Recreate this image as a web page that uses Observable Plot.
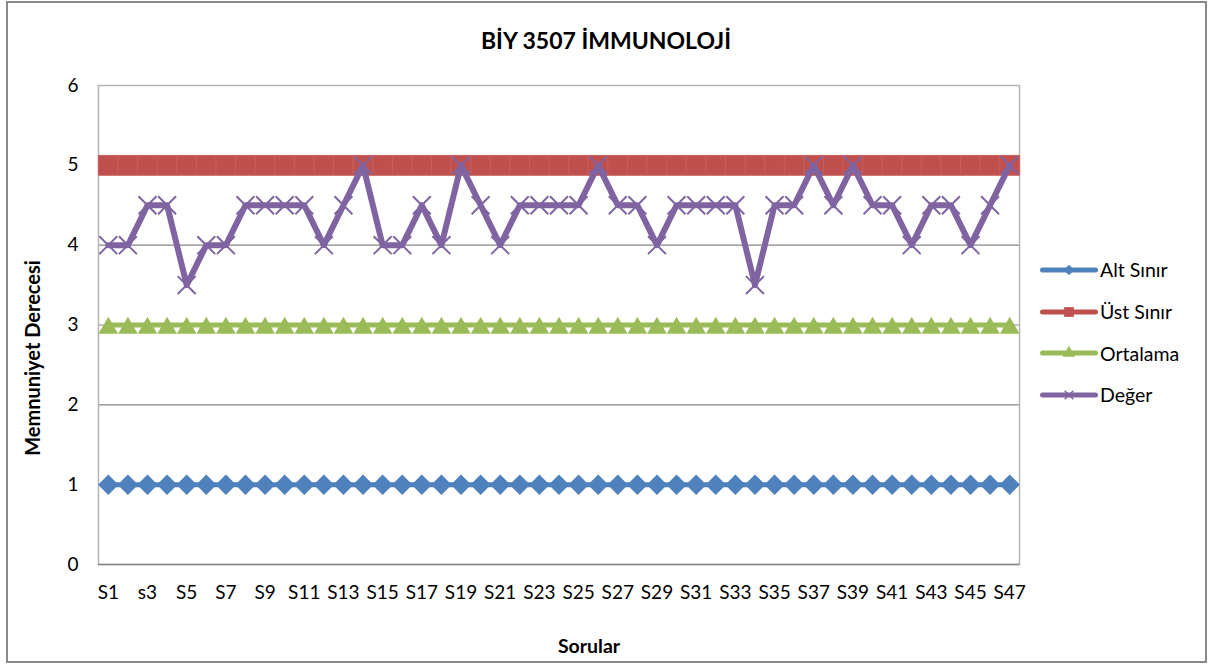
<!DOCTYPE html>
<html>
<head>
<meta charset="utf-8">
<script src="https://cdn.jsdelivr.net/npm/d3@7"></script>
<script src="https://cdn.jsdelivr.net/npm/@observablehq/plot@0.6"></script>
<style>
  html, body { margin: 0; padding: 0; background: #fff; }
  #wrap { position: relative; width: 1208px; height: 664px; overflow: hidden; font-family: Lato, "Open Sans", sans-serif; color: #000; }
  #border { position: absolute; left: 6px; top: 1px; width: 1201px; height: 662px; border: 2px solid #898989; box-sizing: border-box; pointer-events: none; }
  #chart { position: absolute; left: 0; top: 0; }
  .abs { position: absolute; transform: translate(-50%, -50%); white-space: nowrap; }
  #title { left: 606px; top: 40px; font-size: 23px; font-weight: bold; }
  #xlabel { left: 589px; top: 645px; font-size: 19.5px; font-weight: bold; }
  #ylabel { left: 32px; top: 358px; font-size: 20px; font-weight: bold; transform: translate(-50%, -50%) rotate(-90deg); }
  #legend { position: absolute; left: 1040px; top: 249px; }
  .item { display: flex; align-items: center; height: 41.7px; font-size: 19.5px; }
  .item svg { margin-right: 2px; }
</style>
</head>
<body>
<div id="wrap">
  <div id="chart"></div>
  <div id="title" class="abs">BİY 3507 İMMUNOLOJİ</div>
  <div id="ylabel" class="abs">Memnuniyet Derecesi</div>
  <div id="xlabel" class="abs">Sorular</div>
  <div id="legend"></div>
  <div id="border"></div>
</div>
<script>
// ---- data ----
const categories = ["S1","S2","s3","S4","S5","S6","S7","S8","S9","S10",
  "S11","S12","S13","S14","S15","S16","S17","S18","S19","S20",
  "S21","S22","S23","S24","S25","S26","S27","S28","S29","S30",
  "S31","S32","S33","S34","S35","S36","S37","S38","S39","S40",
  "S41","S42","S43","S44","S45","S46","S47"];
const tickLabels = ["S1","s3","S5","S7","S9","S11","S13","S15","S17","S19","S21","S23",
  "S25","S27","S29","S31","S33","S35","S37","S39","S41","S43","S45","S47"];
const altSinir = [1,1,1,1,1,1,1,1,1,1, 1,1,1,1,1,1,1,1,1,1, 1,1,1,1,1,1,1,1,1,1,
  1,1,1,1,1,1,1,1,1,1, 1,1,1,1,1,1,1];
const ustSinir = [5,5,5,5,5,5,5,5,5,5, 5,5,5,5,5,5,5,5,5,5, 5,5,5,5,5,5,5,5,5,5,
  5,5,5,5,5,5,5,5,5,5, 5,5,5,5,5,5,5];
const ortalama = [3,3,3,3,3,3,3,3,3,3, 3,3,3,3,3,3,3,3,3,3, 3,3,3,3,3,3,3,3,3,3,
  3,3,3,3,3,3,3,3,3,3, 3,3,3,3,3,3,3];
const deger = [4,4,4.5,4.5,3.5,4,4,4.5,4.5,4.5, 4.5,4,4.5,5,4,4,4.5,4,5,4.5,
  4,4.5,4.5,4.5,4.5,5,4.5,4.5,4,4.5, 4.5,4.5,4.5,3.5,4.5,4.5,5,4.5,5,4.5,
  4.5,4,4.5,4.5,4,4.5,5];
const yTicks = [0,1,2,3,4,5,6];
const seriesNames = ["Alt Sınır","Üst Sınır","Ortalama","Değer"];
const seriesColors = ["#4f81bd","#c0504d","#9bbb59","#8064a2"];

// ---- table ----
const rows = categories.map((c, i) => ({cat: c, alt: altSinir[i], ust: ustSinir[i], ort: ortalama[i], deg: deger[i]}));

const chart = Plot.plot({
  width: 1208,
  height: 664,
  marginLeft: 98,
  marginRight: 189,
  marginTop: 85,
  marginBottom: 100,
  style: {fontFamily: "Lato, 'Open Sans', sans-serif", fontSize: "19px", color: "#000", background: "transparent"},
  x: {type: "point", domain: categories, padding: 0.5, round: false},
  y: {domain: [0, 6]},
  marks: [
    Plot.gridY([1,2,3,4,5], {stroke: "#868686", strokeOpacity: 1, strokeWidth: 1.2}),
    Plot.frame({stroke: "#b4b4b4", strokeWidth: 1.5}),
    Plot.ruleY([0], {stroke: "#868686", strokeWidth: 1.5}),
    Plot.axisY({ticks: yTicks, tickFormat: d => String(d), tickSize: 0, tickPadding: 20, label: null, fontSize: 19}),
    Plot.axisX({ticks: tickLabels, tickSize: 0, tickPadding: 21, label: null, fontSize: 19}),
    // Alt Sınır
    Plot.lineY(rows, {x: "cat", y: "alt", stroke: seriesColors[0], strokeWidth: 5}),
    Plot.dot(rows, {x: "cat", y: "alt", symbol: "diamond2", r: 9.2, fill: seriesColors[0], stroke: "none"}),
    // Üst Sınır
    Plot.lineY(rows, {x: "cat", y: "ust", stroke: seriesColors[1], strokeWidth: 6}),
    Plot.dot(rows, {x: "cat", y: "ust", symbol: "square", r: 11.2, fill: seriesColors[1], stroke: "#c85f5c", strokeWidth: 1}),
    // Ortalama
    Plot.lineY(rows, {x: "cat", y: "ort", stroke: seriesColors[2], strokeWidth: 5}),
    Plot.dot(rows, {x: "cat", y: "ort", symbol: "triangle", r: 7.3, dy: 3, fill: seriesColors[2], stroke: "none"}),
    // Değer
    Plot.lineY(rows, {x: "cat", y: "deg", stroke: seriesColors[3], strokeWidth: 6}),
    Plot.dot(rows, {x: "cat", y: "deg", symbol: "times", r: 8.2, stroke: seriesColors[3], strokeWidth: 2})
  ]
});
document.getElementById("chart").append(chart);

// ---- legend ----
const legendSymbols = [
  {sym: d3.symbolDiamond2, size: 70, fill: true},
  {sym: d3.symbolSquare, size: 95, fill: true},
  {sym: d3.symbolTriangle, size: 70, fill: true},
  {sym: d3.symbolTimes, size: 50, fill: false}
];
const legend = document.getElementById("legend");
seriesNames.forEach((name, i) => {
  const item = document.createElement("div");
  item.className = "item";
  const ns = "http://www.w3.org/2000/svg";
  const svg = document.createElementNS(ns, "svg");
  svg.setAttribute("width", 58);
  svg.setAttribute("height", 20);
  const line = document.createElementNS(ns, "line");
  line.setAttribute("x1", 2.5); line.setAttribute("x2", 55.5);
  line.setAttribute("y1", 10); line.setAttribute("y2", 10);
  line.setAttribute("stroke", seriesColors[i]);
  line.setAttribute("stroke-width", 5);
  line.setAttribute("stroke-linecap", "round");
  svg.appendChild(line);
  const p = document.createElementNS(ns, "path");
  p.setAttribute("d", d3.symbol(legendSymbols[i].sym, legendSymbols[i].size)());
  p.setAttribute("transform", "translate(29,10)");
  if (legendSymbols[i].fill) { p.setAttribute("fill", seriesColors[i]); }
  else { p.setAttribute("fill", "none"); p.setAttribute("stroke", seriesColors[i]); p.setAttribute("stroke-width", 1.5); }
  svg.appendChild(p);
  item.appendChild(svg);
  const t = document.createElement("span");
  t.textContent = name;
  item.appendChild(t);
  legend.appendChild(item);
});
</script>
</body>
</html>
